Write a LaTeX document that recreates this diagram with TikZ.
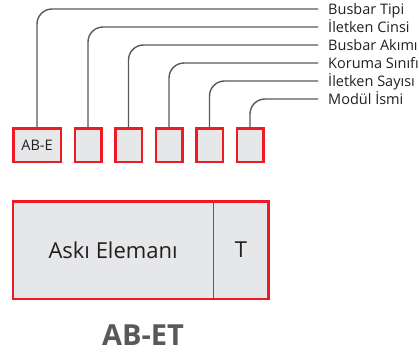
\documentclass[tikz,border=0pt]{standalone}
\usepackage{fontspec}
\setmainfont{Open Sans}
\usepackage{tikz}
\usetikzlibrary{positioning}
\definecolor{codered}{HTML}{ED1C24}
\definecolor{cellgray}{HTML}{E6E7E8}
\definecolor{leadgray}{HTML}{58595B}
\definecolor{ink}{HTML}{231F20}

\begin{document}
\begin{tikzpicture}[
    x=1pt, y=-1pt,
    node distance=11.5pt,
    cell/.style={draw=codered, line width=2.5pt, fill=cellgray, minimum width=26.5pt, minimum height=33.5pt, inner sep=0pt, font=\fontsize{14.5}{16}\selectfont, text=ink},
    tag/.style={anchor=west, inner xsep=10pt, inner ysep=0pt, text height=10.5pt, text depth=0pt, font=\fontsize{14.5}{16}\selectfont, text=ink},
    lead/.style={draw=leadgray, line width=1.4pt, rounded corners=15pt},
    part/.style={fill=cellgray, minimum height=97.5pt, inner sep=0pt, outer sep=0pt, font=\fontsize{22}{26}\selectfont, text=ink},
    frame/.style={draw=codered, line width=2.5pt}
]
\useasboundingbox (0,0) rectangle (420,360);

% code cells
\node[cell, minimum width=47.5pt] (b1) at (37,145) {AB-E};
\node[cell, right=of b1] (b2) {};
\node[cell, right=of b2] (b3) {};
\node[cell, right=of b3] (b4) {};
\node[cell, right=of b4] (b5) {};
\node[cell, right=of b5] (b6) {};

% labels
\node[tag] (l1) at (318,9) {Busbar Tipi};
\node[tag] (l2) at (318,27) {İletken Cinsi};
\node[tag] (l3) at (318,45) {Busbar Akımı};
\node[tag] (l4) at (318,63) {Koruma Sınıfı};
\node[tag] (l5) at (318,81) {İletken Sayısı};
\node[tag] (l6) at (318,99) {Modül İsmi};

\draw[lead] (b1.north) |- (l1.west);
\draw[lead] (b2.north) |- (l2.west);
\draw[lead] (b3.north) |- (l3.west);
\draw[lead] (b4.north) |- (l4.west);
\draw[lead] (b5.north) |- (l5.west);
\draw[lead] (b6.north) |- (l6.west);

% element box
\node[part, minimum width=199.75pt] (elem) at (113.1,250) {Askı Elemanı};
\node[part, minimum width=55.75pt, right=0pt of elem] (tcell) {T};
\draw[frame] (elem.north west) rectangle (tcell.south east);
\draw[codered, line width=0.8pt] (elem.north east) -- (elem.south east);

\node[font=\bfseries\fontsize{29}{33}\selectfont, text=leadgray] (name) at (143,335) {AB-ET};

\end{tikzpicture}
\end{document}
